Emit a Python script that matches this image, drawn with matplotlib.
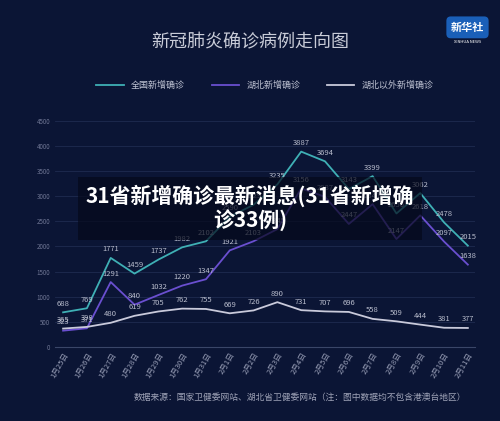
import matplotlib
matplotlib.use("Agg")
import matplotlib.pyplot as plt

plt.rcParams['font.family'] = ['Noto Sans CJK SC', 'DejaVu Sans']

dates = ['1月25日','1月26日','1月27日','1月28日','1月29日','1月30日','1月31日','2月1日','2月2日',
         '2月3日','2月4日','2月5日','2月6日','2月7日','2月8日','2月9日','2月10日','2月11日']
national = [688, 769, 1771, 1459, 1737, 1982, 2102, 2590, 2829, 3235, 3887, 3694, 3143, 3399, 2656, 3062, 2478, 2015]
hubei = [323, 371, 1291, 840, 1032, 1220, 1347, 1921, 2103, 2345, 3156, 2987, 2447, 2841, 2147, 2618, 2097, 1638]
outside = [365, 398, 480, 619, 705, 762, 755, 669, 726, 890, 731, 707, 696, 558, 509, 444, 381, 377]
series_names = ['全国新增确诊', '湖北新增确诊', '湖北以外新增确诊']

bg = '#0b1535'
fig = plt.figure(figsize=(5, 4.21), dpi=100, facecolor=bg)
ax = fig.add_axes([0.11, 0.176, 0.84, 0.537], facecolor=bg)
x = list(range(len(dates)))
cols = ['#3fb0b5', '#6a4fd0', '#c9cadb']
for ys, c, n in zip([national, hubei, outside], cols, series_names):
    ax.plot(x, ys, color=c, lw=1.3, label=n)
    for xi, yi in zip(x, ys):
        ax.text(xi, yi + 90, str(yi), color='#b8bccc', fontsize=5.5, ha='center', va='bottom')

ax.set_xlim(-0.34, 17.3)
ax.set_ylim(0, 4500)
ax.set_yticks(range(0, 4501, 500))
ax.grid(axis='y', color='#1f2b50', lw=0.6)
ax.set_xticks(x)
ax.set_xticklabels(dates, rotation=60, ha='right', rotation_mode='anchor', fontsize=5.5, color='#9aa0b8')
ax.tick_params(axis='y', labelsize=4.5, colors='#6f7694', length=0)
ax.tick_params(axis='x', length=0, pad=3)
for s in ax.spines.values():
    s.set_visible(False)
ax.spines['bottom'].set_visible(True)
ax.spines['bottom'].set_color('#3a4668')

ax.legend(loc='lower center', bbox_to_anchor=(0.5, 1.1), ncol=3, frameon=False, fontsize=6.5,
          labelcolor='#c0c4d4', handlelength=3, columnspacing=3)

fig.text(0.5, 0.9, '新冠肺炎确诊病例走向图', ha='center', va='center', fontsize=13, color='#c9ccd8')
fig.text(0.935, 0.935, '新华社', ha='center', va='center', fontsize=8, color='white', fontweight='bold',
         bbox=dict(boxstyle='round,pad=0.4', fc='#1a5fb8', ec='none'))
fig.text(0.935, 0.9, 'XINHUA NEWS', ha='center', va='center', fontsize=3, color='white')
fig.text(0.6, 0.057, '数据来源：国家卫健委网站、湖北省卫健委网站（注：图中数据均不包含港澳台地区）',
         ha='center', va='center', fontsize=6.3, color='#a0a4b8')
fig.text(0.5, 0.505, '31省新增确诊最新消息(31省新增确\n诊33例)', ha='center', va='center', fontsize=15,
         color='white', fontweight='bold', linespacing=1.2,
         bbox=dict(boxstyle='square,pad=0.35', fc='#05091a', ec='none', alpha=0.7))
fig.savefig('out.png', dpi=100, facecolor=bg)
